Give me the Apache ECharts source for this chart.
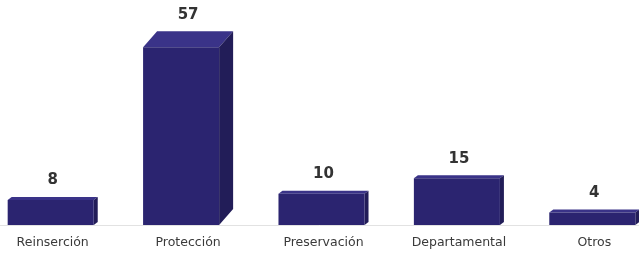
<!DOCTYPE html>
<html><head><meta charset="utf-8">
<script src="https://cdn.jsdelivr.net/npm/echarts@6/dist/echarts.min.js"></script>
<style>html,body{margin:0;padding:0;background:#fff}#c{width:639px;height:254px}</style>
</head><body><div id="c"></div>
<script>
var categories = ['Reinserción', 'Protección', 'Preservación', 'Departamental', 'Otros'];
var values = [8, 57, 10, 15, 4];

var chart = echarts.init(document.getElementById('c'));
chart.setOption({
  animation: false,
  grid: { left: -15, right: -23, top: 38, bottom: 29, containLabel: false, outerBoundsMode: 'none' },
  xAxis: {
    type: 'category', data: categories,
    axisLine: { show: true, lineStyle: { color: '#e2e2e2', width: 1 } },
    axisTick: { show: false },
    axisLabel: { color: '#3a3a3a', fontSize: 12.5, fontFamily: 'DejaVu Sans', margin: 11 }
  },
  yAxis: { type: 'value', min: 0, max: 60, show: false, splitLine: { show: false } },
  series: [{
    type: 'custom',
    data: values.map(function (v, i) { return [i, v]; }),
    renderItem: function (params, api) {
      var i = api.value(0), v = api.value(1);
      var top = api.coord([i, v]);
      var base = api.coord([i, 0]);
      var band = api.size([1, 0])[0];
      var total = band * 0.665;
      var big = v > 30;
      var dx = big ? 14 : 4, dy = big ? 16 : 3;
      var w = total - dx;
      var x0 = top[0] - total / 2;
      var x1 = x0 + w;
      var yt = top[1], yb = base[1];
      return {
        type: 'group',
        children: [
          { type: 'polygon', shape: { points: [[x0, yt], [x0 + dx, yt - dy], [x1 + dx, yt - dy], [x1, yt]] }, style: { fill: '#3a3388' } },
          { type: 'polygon', shape: { points: [[x1, yt], [x1 + dx, yt - dy], [x1 + dx, yb - dy], [x1, yb]] }, style: { fill: '#221d58' } },
          { type: 'rect', shape: { x: x0, y: yt, width: w, height: yb - yt }, style: { fill: '#2b2470' } },
          { type: 'text', style: { text: String(v), x: top[0], y: yt - dy - 9, align: 'center', verticalAlign: 'bottom', fill: '#333333', font: 'bold 15px "DejaVu Sans"' } }
        ]
      };
    }
  }]
});
</script></body></html>
